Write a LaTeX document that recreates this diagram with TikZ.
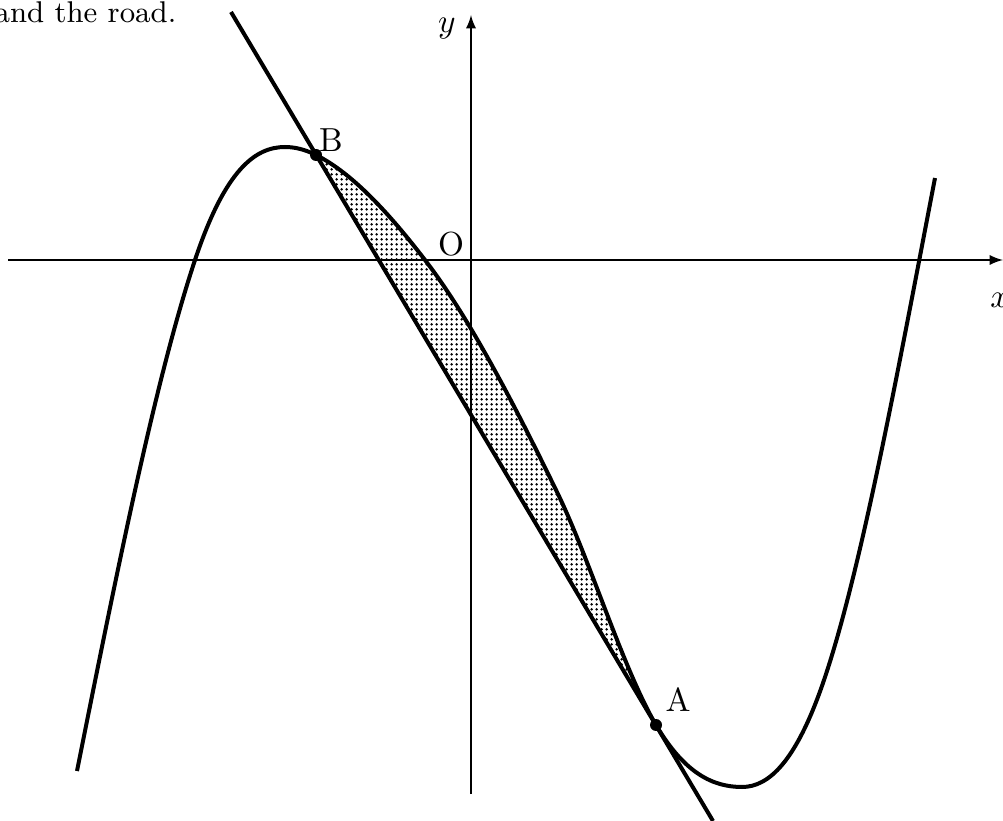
\documentclass[tikz,border=0pt]{standalone}
\usepackage{amsmath}
\usepackage{tikz}
\usetikzlibrary{arrows.meta, patterns}

\pgfdeclarepatternformonly{finedots}{\pgfpoint{-0.5pt}{-0.5pt}}{\pgfpoint{1.5pt}{1.5pt}}{\pgfpoint{1.5pt}{1.5pt}}{%
    \pgfpathcircle{\pgfpoint{0.5pt}{0.5pt}}{0.42pt}\pgfusepath{fill}}

\begin{document}
\begin{tikzpicture}[>=latex, x=0.3pt, y=-0.3pt]
        \path[use as bounding box] (0,0) rectangle (1003,821);
        \coordinate (B) at (316,155);
        \coordinate (A) at (656,725);
        \coordinate (roadtop) at (231,12);
        \coordinate (roadend) at (713,821);
        \draw[thin, ->] (8,260) -- (1003,260);
        \draw[thin, ->] (471,794) -- (471,15);
        % area between the road and the curve
        \fill[pattern=finedots] (B) .. controls (352.3,173.2) and (388.7,212.8) .. (425,260)
            .. controls (469,317.2) and (513,401.8) .. (557,492)
            .. controls (590,559.7) and (623,668.9) .. (A) -- cycle;
        \draw[very thick] (77,771) .. controls (116.3,574.3) and (155.7,378) .. (195,260)
            .. controls (225,170) and (255,147) .. (285,147)
            .. controls (295.3,147) and (305.7,149.8) .. (B)
            .. controls (352.3,173.2) and (388.7,212.8) .. (425,260)
            .. controls (469,317.2) and (513,401.8) .. (557,492)
            .. controls (590,559.7) and (623,668.9) .. (A)
            .. controls (684.7,773.7) and (713.3,787) .. (742,787)
            .. controls (769,787) and (796,761.3) .. (823,683)
            .. controls (860.3,574.7) and (897.7,372.1) .. (935,178);
        \draw[very thick] (roadtop) -- (roadend);
        \fill (B) circle (1.8pt) (A) circle (1.8pt);
        \node (ylab) at (447,29) {$y$};
        \node (xlab) at (1000,300) {$x$};
        \node (olab) at (451,244) {O};
        \node (blab) at (331,140) {B};
        \node (alab) at (678,700) {A};
        \node[anchor=base east, inner sep=0pt, font=\fontsize{9}{11}\selectfont] (caption) at (177,23) {and the road.};
    \end{tikzpicture}
\end{document}
